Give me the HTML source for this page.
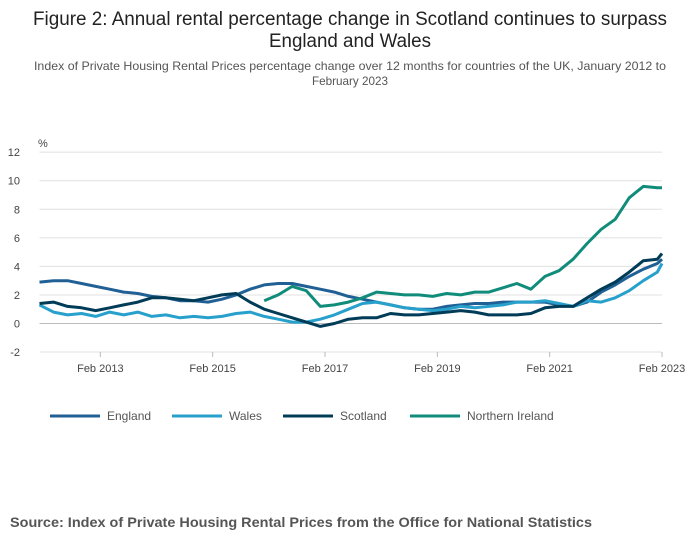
<!DOCTYPE html>
<html><head><meta charset="utf-8">
<style>
html,body{margin:0;padding:0;background:#fff;}
svg{display:block;font-family:"Liberation Sans",sans-serif;}
</style></head>
<body>
<svg id="chart" width="700" height="549" viewBox="0 0 700 549">
<text x="350" y="25" text-anchor="middle" font-size="19" fill="#222" textLength="634" lengthAdjust="spacingAndGlyphs">Figure 2: Annual rental percentage change in Scotland continues to surpass</text>
<text x="350" y="47" text-anchor="middle" font-size="19" fill="#222" textLength="162" lengthAdjust="spacingAndGlyphs">England and Wales</text>
<text x="350" y="70" text-anchor="middle" font-size="12" fill="#555" textLength="632" lengthAdjust="spacingAndGlyphs">Index of Private Housing Rental Prices percentage change over 12 months for countries of the UK, January 2012 to</text>
<text x="350" y="85" text-anchor="middle" font-size="12" fill="#555" textLength="76" lengthAdjust="spacingAndGlyphs">February 2023</text>
<text x="38" y="147" font-size="11" fill="#444">%</text>
<g id="grid"></g><g id="xaxis"></g><g id="series"></g><g id="legend"></g>
<text x="10" y="527" font-size="14" font-weight="bold" fill="#555" textLength="582" lengthAdjust="spacingAndGlyphs">Source: Index of Private Housing Rental Prices from the Office for National Statistics</text>
</svg>
<script>
const months = [0,3,6,9,12,15,18,21,24,27,30,33,36,39,42,45,48,51,54,57,60,63,66,69,72,75,78,81,84,87,90,93,96,99,102,105,108,111,114,117,120,123,126,129,132,133];
const england = [2.9,3.0,3.0,2.8,2.6,2.4,2.2,2.1,1.9,1.8,1.6,1.6,1.5,1.7,2.0,2.4,2.7,2.8,2.8,2.6,2.4,2.2,1.9,1.7,1.5,1.3,1.1,1.0,1.0,1.2,1.3,1.4,1.4,1.5,1.5,1.5,1.5,1.3,1.2,1.5,2.2,2.7,3.3,3.8,4.2,4.5];
const wales = [1.3,0.8,0.6,0.7,0.5,0.8,0.6,0.8,0.5,0.6,0.4,0.5,0.4,0.5,0.7,0.8,0.5,0.3,0.1,0.1,0.3,0.6,1.0,1.4,1.5,1.3,1.1,1.0,0.9,1.0,1.2,1.1,1.2,1.3,1.5,1.5,1.6,1.4,1.2,1.6,1.5,1.8,2.3,3.0,3.6,4.2];
const scotland = [1.4,1.5,1.2,1.1,0.9,1.1,1.3,1.5,1.8,1.8,1.7,1.6,1.8,2.0,2.1,1.5,1.0,0.7,0.4,0.1,-0.2,0.0,0.3,0.4,0.4,0.7,0.6,0.6,0.7,0.8,0.9,0.8,0.6,0.6,0.6,0.7,1.1,1.2,1.2,1.8,2.4,2.9,3.6,4.4,4.5,4.9];
const niMonths = [48,51,54,57,60,63,66,69,72,75,78,81,84,87,90,93,96,99,102,105,108,111,114,117,120,123,126,129,132,133];
const northernIreland = [1.6,2.0,2.6,2.3,1.2,1.3,1.5,1.8,2.2,2.1,2.0,2.0,1.9,2.1,2.0,2.2,2.2,2.5,2.8,2.4,3.3,3.7,4.5,5.6,6.6,7.3,8.8,9.6,9.5,9.5];
const yTicks = [12,10,8,6,4,2,0,-2];
const xTickMonths = [13,37,61,85,109,133];
const xTickLabels = ["Feb 2013","Feb 2015","Feb 2017","Feb 2019","Feb 2021","Feb 2023"];
const seriesNames = ["England","Wales","Scotland","Northern Ireland"];
const seriesColors = ["#206095","#27a0cc","#003c57","#118c7b"];

const NS="http://www.w3.org/2000/svg";
const X0=39.5, X1=662, M1=133, Y0=323.5, PX=14.28;
const xs = m => X0 + (X1-X0)*m/M1;
const ys = v => Y0 - v*PX;
function mk(tag, attrs, parent){const e=document.createElementNS(NS,tag);for(const k in attrs)e.setAttribute(k,attrs[k]);parent.appendChild(e);return e;}

const grid=document.getElementById('grid');
yTicks.forEach(v=>{
  const l=mk('line',{x1:X0,x2:X1,y1:ys(v),y2:ys(v),stroke:v===0?'#bbb':'#e0e0e0','stroke-width':1},grid);
  
  
  const t=mk('text',{x:20,y:ys(v)+4,'font-size':11,fill:'#444','text-anchor':'end'},grid);
  t.textContent=v;
  
  
});
const xa=document.getElementById('xaxis');
xTickMonths.forEach((m,i)=>{
  const l=mk('line',{x1:xs(m),x2:xs(m),y1:352,y2:357,stroke:'#bbb'},xa);
  
  
  const t=mk('text',{x:xs(m),y:372,'font-size':11,fill:'#444','text-anchor':'middle'},xa);
  t.textContent=xTickLabels[i];
  
  
});
const sg=document.getElementById('series');
const allData=[[months,england],[months,wales],[months,scotland],[niMonths,northernIreland]];
allData.forEach(([ms,vals],i)=>{
  const d=vals.map((v,j)=>(j?'L':'M')+xs(ms[j]).toFixed(1)+','+ys(v).toFixed(1)).join('');
  const p=mk('path',{d:d,fill:'none',stroke:seriesColors[i],'stroke-width':3,'stroke-linejoin':'round'},sg);
  
  
});
const lg=document.getElementById('legend');
const legendX=[50,172,283,410];
seriesNames.forEach((n,i)=>{
  const g=mk('g',{},lg);
  
  
  mk('line',{x1:legendX[i],x2:legendX[i]+50,y1:416,y2:416,stroke:seriesColors[i],'stroke-width':3},g);
  const t=mk('text',{x:legendX[i]+57,y:420,'font-size':12,fill:'#555'},g);
  t.textContent=n;
});
</script>
</body></html>
